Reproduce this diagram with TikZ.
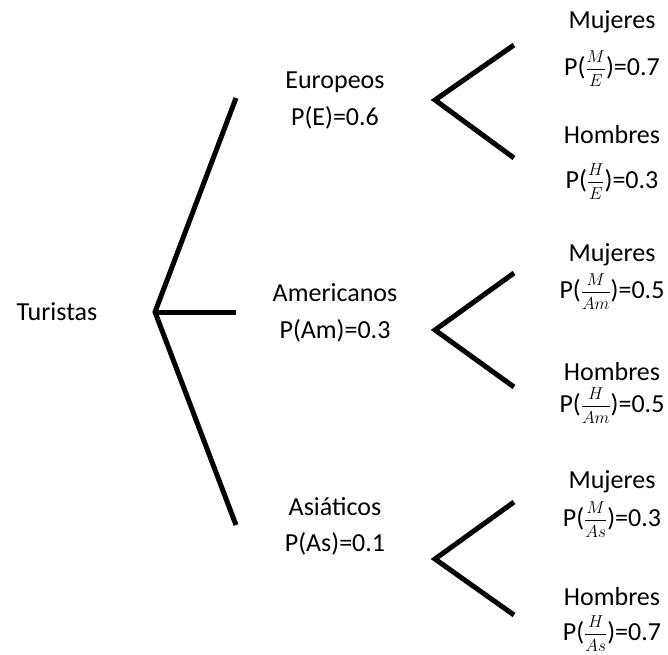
\documentclass[tikz,border=0pt]{standalone}
\usepackage{fontspec}
\setmainfont{Carlito}
\usetikzlibrary{positioning}
\tikzstyle{txt} = [anchor=base, inner sep=0pt,
                   font=\fontsize{26}{31}\selectfont]
\tikzstyle{branch} = [line width=5pt, line join=miter]
\newcommand{\cond}[2]{\(\frac{\raisebox{3.2pt}{$\scriptstyle #1$}}{\raisebox{-2.6pt}{$\scriptstyle #2$}}\)}

\begin{document}
\begin{tikzpicture}[x=1pt, y=-1pt]
        \useasboundingbox (0,0) rectangle (668,654);

        \node (Turistas) [txt] at (57,320) {Turistas};

        %First level
        \node (Europeos) [txt] at (335,88.5) {Europeos};
        \node (PE) [txt] at (335,125.5) {P(E)=0.6};
        \node (Americanos) [txt] at (335,301.5) {Americanos};
        \node (PAm) [txt] at (335,338.5) {P(Am)=0.3};
        \node (Asiaticos) [txt] at (335,515.5) {Asiáticos};
        \node (PAs) [txt] at (335,551.5) {P(As)=0.1};

        %Second level, Europeos
        \node (MujE) [txt] at (612,28.5) {Mujeres};
        \node (PME) [txt] at (612,75.5) {P(\cond{M}{E})=0.7};
        \node (HomE) [txt] at (612,143.5) {Hombres};
        \node (PHE) [txt] at (612,188.5) {P(\cond{H}{E})=0.3};

        %Second level, Americanos
        \node (MujAm) [txt] at (612,261.5) {Mujeres};
        \node (PMAm) [txt] at (612,298) {P(\cond{M}{Am})=0.5};
        \node (HomAm) [txt] at (612,380.5) {Hombres};
        \node (PHAm) [txt] at (612,412) {P(\cond{H}{Am})=0.5};

        %Second level, Asiaticos
        \node (MujAs) [txt] at (612,488.5) {Mujeres};
        \node (PMAs) [txt] at (612,526.5) {P(\cond{M}{As})=0.3};
        \node (HomAs) [txt] at (612,605.5) {Hombres};
        \node (PHAs) [txt] at (612,640.5) {P(\cond{H}{As})=0.7};

        %Branch points
        \coordinate (root) at (155,312);
        \coordinate (endE) at (236,98);
        \coordinate (endAm) at (236,312);
        \coordinate (endAs) at (236,525);
        \coordinate (forkE) at (435,100);
        \coordinate (forkAm) at (435,330);
        \coordinate (forkAs) at (435,559);

        %Lines from Turistas
        \draw [branch] (endE) -- (root) -- (endAs);
        \draw [branch] (root) -- (endAm);

        %Forks to Mujeres / Hombres
        \draw [branch] (514,45) -- (forkE) -- (514,158);
        \draw [branch] (514,273) -- (forkAm) -- (514,387);
        \draw [branch] (514,502) -- (forkAs) -- (514,615);

\end{tikzpicture}
\end{document}
